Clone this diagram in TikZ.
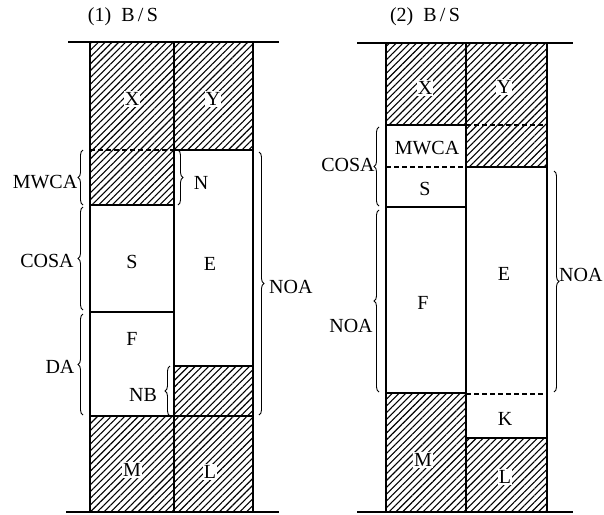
\documentclass[tikz,border=0pt]{standalone}
\usepackage{fontspec}
\setmainfont{Liberation Serif}
\usetikzlibrary{patterns.meta,decorations.pathreplacing}
\begin{document}
\begin{tikzpicture}[x=1pt,y=-1pt,
  lbl/.style={font=\fontsize{20}{21}\selectfont,inner sep=1pt},
  hlbl/.style={lbl,fill=white},
  hatch/.style={pattern={Lines[angle=45,distance=4.8pt,line width=1.1pt]}},
  wall/.style={line width=1.2pt},
  brc/.style={decorate,decoration={brace,amplitude=5pt},line width=0.9pt},
  dsh/.style={line width=1.1pt,dash pattern=on 5pt off 3pt}]
\useasboundingbox (0,0) rectangle (604,514);
% ---------- (1) ----------
\node[lbl] (t1) at (123,17) {(1)\ \ B\,/\,S};
\fill[hatch] (90,42) rectangle (174,205);
\fill[hatch] (174,42) rectangle (253,150);
\fill[hatch] (174,366) rectangle (253,416);
\fill[hatch] (90,416) rectangle (174,512);
\fill[hatch] (174,416) rectangle (253,512);
\draw[line width=1.4pt] (68,42) -- (279,42);
\draw[line width=1.4pt] (66,512) -- (279,512);
\draw[wall] (90,42) -- (90,512);
\draw[wall] (174,42) -- (174,512);
\draw[wall] (253,42) -- (253,512);
\draw[dsh] (90,150) -- (174,150);
\draw[wall] (174,150) -- (253,150);
\draw[wall] (90,205) -- (174,205);
\draw[wall] (90,312) -- (174,312);
\draw[wall] (174,366) -- (253,366);
\draw[wall] (90,416) -- (253,416);
\coordinate (a1) at (83,205); \coordinate (a2) at (83,150);
\coordinate (b1) at (83,310); \coordinate (b2) at (83,207);
\coordinate (c1) at (83,415); \coordinate (c2) at (83,314);
\coordinate (d1) at (178,150); \coordinate (d2) at (178,205);
\coordinate (e1) at (259,152); \coordinate (e2) at (259,415);
\coordinate (f1) at (170,416); \coordinate (f2) at (170,366);
\draw[brc] (a1) -- (a2);
\draw[brc] (b1) -- (b2);
\draw[brc] (c1) -- (c2);
\draw[brc] (d1) -- (d2);
\draw[brc] (e1) -- (e2);
\draw[brc] (f1) -- (f2);
\node[hlbl] (x1) at (132,99) {X};
\node[hlbl] (y1) at (213,99) {Y};
\node[lbl] (mw1) at (45,182) {MWCA};
\node[lbl] (n1) at (201,183) {N};
\node[lbl] (co1) at (47,261) {COSA};
\node[lbl] (s1) at (132,262) {S};
\node[lbl] (e1l) at (210,264) {E};
\node[lbl,anchor=west] (noa1) at (268,287) {NOA};
\node[lbl] (f1l) at (132,339) {F};
\node[lbl] (da1) at (60,367) {DA};
\node[lbl] (nb1) at (143,395) {NB};
\node[hlbl] (m1) at (132,470) {M};
\node[hlbl] (l1) at (210,472) {L};
% ---------- (2) ----------
\node[lbl] (t2) at (425,17) {(2)\ \ B\,/\,S};
\fill[hatch] (386,43) rectangle (466,125);
\fill[hatch] (466,43) rectangle (547,167);
\fill[hatch] (386,393) rectangle (466,512);
\fill[hatch] (466,438) rectangle (547,512);
\draw[line width=1.4pt] (357,43) -- (573,43);
\draw[line width=1.4pt] (357,512) -- (573,512);
\draw[wall] (386,43) -- (386,512);
\draw[wall] (466,43) -- (466,512);
\draw[wall] (547,43) -- (547,512);
\draw[wall] (386,125) -- (466,125);
\draw[dsh] (466,125) -- (547,125);
\draw[dsh] (386,167) -- (466,167);
\draw[wall] (466,167) -- (547,167);
\draw[wall] (386,207) -- (466,207);
\draw[wall] (386,393) -- (466,393);
\draw[dsh] (466,394) -- (547,394);
\draw[wall] (466,438) -- (547,438);
\coordinate (g1) at (379,206); \coordinate (g2) at (379,127);
\coordinate (h1) at (379,392); \coordinate (h2) at (379,210);
\coordinate (i1) at (554,171); \coordinate (i2) at (554,392);
\draw[brc] (g1) -- (g2);
\draw[brc] (h1) -- (h2);
\draw[brc] (i1) -- (i2);
\node[hlbl] (x2) at (425,88) {X};
\node[hlbl] (y2) at (504,87) {Y};
\node[lbl] (mw2) at (427,148) {MWCA};
\node[lbl] (co2) at (348,165) {COSA};
\node[lbl] (s2) at (425,189) {S};
\node[lbl] (e2l) at (504,274) {E};
\node[lbl,anchor=west] (noa2r) at (558,275) {NOA};
\node[lbl] (f2l) at (423,303) {F};
\node[lbl] (noa2l) at (351,326) {NOA};
\node[lbl] (k2) at (505,419) {K};
\node[hlbl] (m2) at (423,460) {M};
\node[hlbl] (l2) at (505,477) {L};
\end{tikzpicture}
\end{document}
